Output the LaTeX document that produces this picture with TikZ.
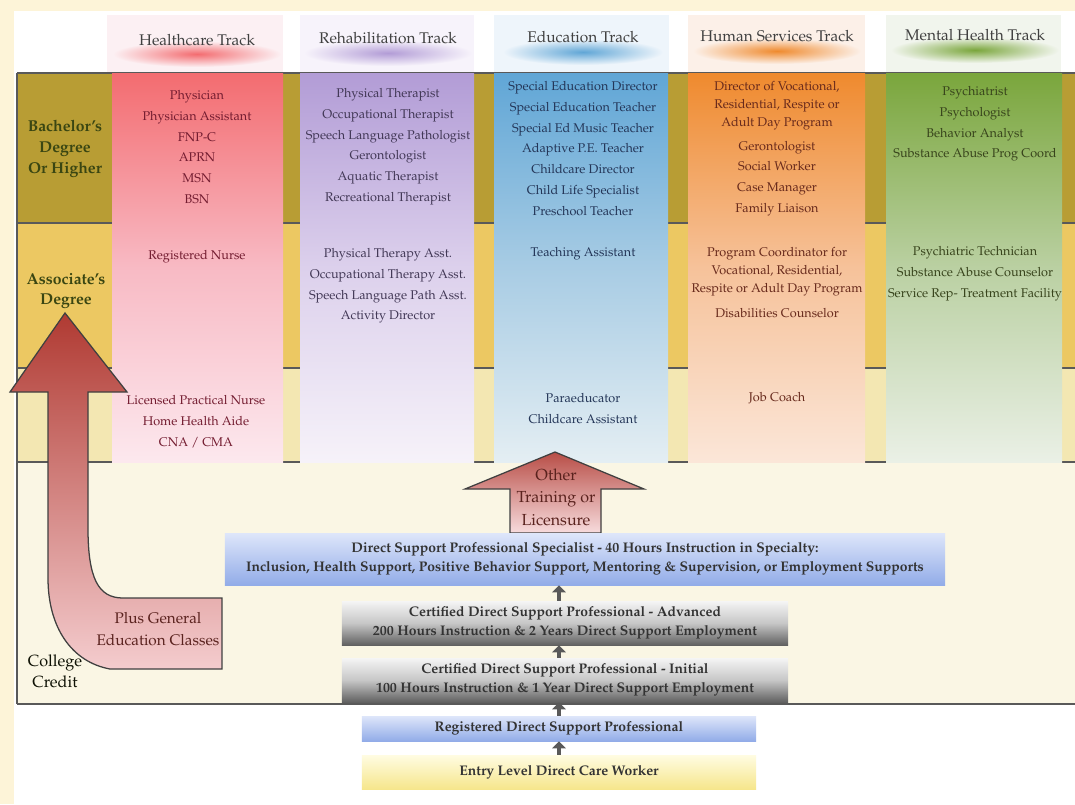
\documentclass[tikz,border=0pt]{standalone}
\usepackage[T1]{fontenc}
\usepackage{mathpazo}
\usetikzlibrary{positioning}
\usetikzlibrary{arrows.meta}

\definecolor{frame}{RGB}{253,244,216}
\definecolor{bach}{RGB}{184,157,52}
\definecolor{assoc}{RGB}{236,200,98}
\definecolor{cert}{RGB}{243,231,178}
\definecolor{college}{RGB}{250,246,228}
\definecolor{lvlText}{RGB}{58,70,18}
% track colours: top, middle, low, header, text
\definecolor{hcTop}{RGB}{243,108,112}
\definecolor{hcMid}{RGB}{248,186,196}
\definecolor{hcLow}{RGB}{252,232,238}
\definecolor{hcHead}{RGB}{252,240,243}
\definecolor{hcText}{RGB}{115,28,48}
\definecolor{rbTop}{RGB}{178,156,214}
\definecolor{rbMid}{RGB}{220,208,236}
\definecolor{rbLow}{RGB}{246,242,249}
\definecolor{rbHead}{RGB}{247,243,251}
\definecolor{rbText}{RGB}{66,56,86}
\definecolor{edTop}{RGB}{96,166,214}
\definecolor{edMid}{RGB}{168,204,228}
\definecolor{edLow}{RGB}{228,238,243}
\definecolor{edHead}{RGB}{238,245,251}
\definecolor{edText}{RGB}{36,54,88}
\definecolor{hsTop}{RGB}{239,138,46}
\definecolor{hsMid}{RGB}{246,194,154}
\definecolor{hsLow}{RGB}{251,230,216}
\definecolor{hsHead}{RGB}{252,240,232}
\definecolor{hsText}{RGB}{104,42,28}
\definecolor{mhTop}{RGB}{122,166,60}
\definecolor{mhMid}{RGB}{186,208,162}
\definecolor{mhLow}{RGB}{234,240,230}
\definecolor{mhHead}{RGB}{241,245,237}
\definecolor{mhText}{RGB}{56,68,28}
\definecolor{arrRed}{RGB}{176,58,50}
\definecolor{arrPink}{RGB}{244,204,206}
\definecolor{arrText}{RGB}{90,34,30}
\definecolor{blueHi}{RGB}{222,230,250}
\definecolor{blueLo}{RGB}{146,172,232}
\definecolor{yelHi}{RGB}{255,252,226}
\definecolor{yelLo}{RGB}{246,230,140}

\tikzset{
  rule/.style={draw=black!65, line width=0.9pt},
  track/.style={font=\fontsize{11}{13}\selectfont, text=black!75, inner sep=0pt},
  job/.style={font=\fontsize{9}{14.8}\selectfont, align=center, inner sep=0pt, anchor=north},
  level/.style={font=\fontsize{11.2}{14.8}\selectfont\bfseries, text=lvlText, align=center, inner sep=0pt},
  stepbox/.style={font=\fontsize{9.9}{13.5}\selectfont\bfseries, text=black!80, align=center, inner sep=0pt},
  stepup/.style={-{Triangle[length=5pt,width=9.5pt]}, line width=3.4pt, draw=black!65},
  bigarrow/.style={draw=black!75, line width=0.9pt, line join=miter},
  arrlabel/.style={font=\fontsize{10.9}{15.6}\selectfont, text=arrText, align=center, inner sep=0pt}
}

\begin{document}
\begin{tikzpicture}[x=0.025cm,y=-0.025cm]
\useasboundingbox (0,0) rectangle (1075,804);
\fill[frame] (0,0) rectangle (1075,804);
\fill[white] (14,11) rectangle (1075,804);

% level bands
\fill[bach] (17,73) rectangle (1075,223);
\fill[assoc] (17,223) rectangle (1075,368);
\fill[cert] (17,368) rectangle (1075,462);
\fill[college] (17,462) rectangle (1075,704);
\draw[rule] (17,73) -- (1075,73);
\draw[rule] (17,223) -- (1075,223);
\draw[rule] (17,368) -- (1075,368);
\draw[rule] (17,462) -- (1075,462);
\draw[rule] (17,704) -- (1075,704);
\draw[rule] (17,73) -- (17,704);

% track columns
\shade[top color=hcTop, bottom color=hcLow, middle color=hcMid] (112,73) rectangle (283,462);
\shade[top color=rbTop, bottom color=rbLow, middle color=rbMid] (300,73) rectangle (474,462);
\shade[top color=edTop, bottom color=edLow, middle color=edMid] (494,73) rectangle (668,462);
\shade[top color=hsTop, bottom color=hsLow, middle color=hsMid] (688,73) rectangle (865,462);
\shade[top color=mhTop, bottom color=mhLow, middle color=mhMid] (886,73) rectangle (1062,462);

% track headers
\fill[hcHead] (107,15) rectangle (283,72);
\fill[rbHead] (300,15) rectangle (474,72);
\fill[edHead] (494,15) rectangle (669,72);
\fill[hsHead] (688,15) rectangle (865,72);
\fill[mhHead] (886,15) rectangle (1061,72);
\shade[inner color=hcTop, outer color=hcHead] (197,54) ellipse (84 and 13);
\shade[inner color=rbTop, outer color=rbHead] (388,53) ellipse (84 and 13);
\shade[inner color=edTop, outer color=edHead] (583,52) ellipse (80 and 13);
\shade[inner color=hsTop, outer color=hsHead] (777,51) ellipse (84 and 13);
\shade[inner color=mhTop, outer color=mhHead] (975,50) ellipse (84 and 13);
\node[track] (hcTitle) at (197,40) {Healthcare Track};
\node[track] (rbTitle) at (388,38) {Rehabilitation Track};
\node[track] (edTitle) at (583,37) {Education Track};
\node[track] (hsTitle) at (777,36) {Human Services Track};
\node[track] (mhTitle) at (975,35) {Mental Health Track};

% level labels
\node[level] (bachLbl) at (65,149) {Bachelor's\\Degree\\Or Higher};
\node[level] (assocLbl) at (66,291) {Associate's\\Degree};
\node[font=\fontsize{11.5}{14.8}\selectfont, text=black!75!lvlText, align=center, inner sep=0pt] (collegeLbl) at (55,671) {College\\Credit};

% healthcare jobs
\node[job, text=hcText] (hcBach) at (197,90) {Physician\\Physician Assistant\\FNP-C\\APRN\\MSN\\BSN};
\node[job, text=hcText] (hcAssoc) at (197,250) {Registered Nurse};
\node[job, text=hcText] (hcCert) at (196,395) {Licensed Practical Nurse\\Home Health Aide\\CNA / CMA};

% rehabilitation jobs
\node[job, text=rbText] (rbBach) at (388,88) {Physical Therapist\\Occupational Therapist\\Speech Language Pathologist\\Gerontologist\\Aquatic Therapist\\Recreational Therapist};
\node[job, text=rbText] (rbAssoc) at (388,248) {Physical Therapy Asst.\\Occupational Therapy Asst.\\Speech Language Path Asst.\\Activity Director};

% education jobs
\node[job, text=edText] (edBach) at (583,81) {Special Education Director\\Special Education Teacher\\Special Ed Music Teacher\\Adaptive P.E. Teacher\\Childcare Director\\Child Life Specialist\\Preschool Teacher};
\node[job, text=edText] (edAssoc) at (583,247) {Teaching Assistant};
\node[job, text=edText] (edCert) at (583,393) {Paraeducator\\Childcare Assistant};

% human services jobs
\node[job, text=hsText] (hsBach) at (777,81) {Director of Vocational,\\[-2.1pt]Residential, Respite or\\[-2.1pt]Adult Day Program\\[2.2pt]Gerontologist\\Social Worker\\Case Manager\\Family Liaison};
\node[job, text=hsText] (hsAssoc) at (777,247) {Program Coordinator for\\[-2.1pt]Vocational, Residential,\\[-2.1pt]Respite or Adult Day Program\\[3pt]Disabilities Counselor};
\node[job, text=hsText] (hsCert) at (777,392) {Job Coach};

% mental health jobs
\node[job, text=mhText] (mhBach) at (975,86) {Psychiatrist\\Psychologist\\Behavior Analyst\\Substance Abuse Prog Coord};
\node[job, text=mhText] (mhAssoc) at (975,246) {Psychiatric Technician\\Substance Abuse Counselor\\Service Rep- Treatment Facility};

% general education arrow
\draw[bigarrow, top color=arrRed, bottom color=arrPink] (65,313) -- (127,392) -- (88,392) -- (88,528)
  .. controls (88,578) and (98,598) .. (123,598) -- (222,598) -- (222,669) -- (110,669)
  .. controls (72,662) and (48,628) .. (48,578) -- (48,392) -- (10,392) -- cycle;
\node[arrlabel] (plusGen) at (158,629) {Plus General\\Education Classes};

% other training arrow
\draw[bigarrow, top color=arrRed!90, bottom color=arrPink!70] (555,452) -- (644,489) -- (601,489) -- (601,533)
  -- (510,533) -- (510,489) -- (465,489) -- cycle;
\node[arrlabel, font=\fontsize{11.4}{16}\selectfont] (otherTr) at (556,497) {Other\\Training or\\Licensure};

% career ladder
\node[stepbox, minimum width=18cm, minimum height=1.3cm, top color=blueHi, bottom color=blueLo] (spec) at (585,559)
  {Direct Support Professional Specialist - 40 Hours Instruction in Specialty:\\Inclusion, Health Support, Positive Behavior Support, Mentoring \& Supervision, or Employment Supports};
\node[stepbox, minimum width=11.15cm, minimum height=1.1cm, top color=black!4, bottom color=black!62, middle color=black!22] (adv) at (565,623)
  {Certified Direct Support Professional - Advanced\\200 Hours Instruction \& 2 Years Direct Support Employment};
\node[stepbox, minimum width=11.15cm, minimum height=1.1cm, top color=black!4, bottom color=black!62, middle color=black!22] (init) at (565,680)
  {Certified Direct Support Professional - Initial\\100 Hours Instruction \& 1 Year Direct Support Employment};
\node[stepbox, minimum width=9.85cm, minimum height=0.625cm, top color=blueHi, bottom color=blueLo] (reg) at (559,728.5)
  {Registered Direct Support Professional};
\node[stepbox, minimum width=9.85cm, minimum height=0.85cm, top color=yelHi, bottom color=yelLo] (entry) at (559,772)
  {Entry Level Direct Care Worker};

\draw[stepup] (entry.north) -- (reg.south);
\draw[stepup] (reg.north) -- (reg.north |- init.south);
\draw[stepup] (reg.north |- init.north) -- (reg.north |- adv.south);
\draw[stepup] (reg.north |- adv.north) -- (reg.north |- spec.south);

\end{tikzpicture}
\end{document}
